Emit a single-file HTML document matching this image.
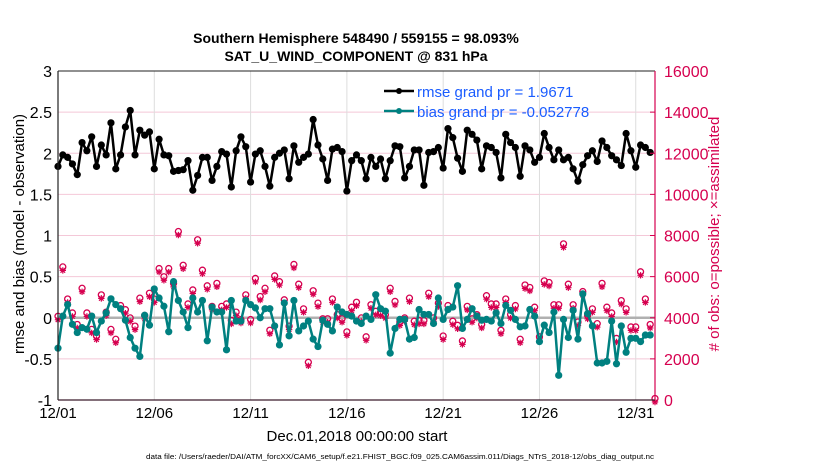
<!DOCTYPE html>
<html><head><meta charset="utf-8"><style>
body{margin:0;background:#fff;}
svg{display:block;font-family:"Liberation Sans",Arial,sans-serif;}
</style></head><body>
<svg id="chart" width="830" height="470" xmlns="http://www.w3.org/2000/svg">
<rect width="830" height="470" fill="#fff"/>
<text x="356" y="43" text-anchor="middle" font-size="14" font-weight="bold">Southern Hemisphere 548490 / 559155 = 98.093%</text>
<text x="356" y="61" text-anchor="middle" font-size="14" font-weight="bold">SAT_U_WIND_COMPONENT @ 831 hPa</text>
<g id="grid"></g>
<g id="marks"></g>
<g id="axes"></g>
<text transform="translate(24,234) rotate(-90)" text-anchor="middle" font-size="15">rmse and bias (model - observation)</text>
<text transform="translate(719,234) rotate(-90)" text-anchor="middle" font-size="15" fill="#d6004f">#  of obs: o=possible; ×=assimilated</text>
<text x="357" y="441" text-anchor="middle" font-size="15">Dec.01,2018 00:00:00 start</text>
<text x="400" y="459" text-anchor="middle" font-size="7.6" textLength="508" lengthAdjust="spacingAndGlyphs">data file: /Users/raeder/DAI/ATM_forcXX/CAM6_setup/f.e21.FHIST_BGC.f09_025.CAM6assim.011/Diags_NTrS_2018-12/obs_diag_output.nc</text>
<g>
<line x1="384" y1="91" x2="414" y2="91" stroke="#000" stroke-width="2.5"/><circle cx="399" cy="91" r="3" fill="#000"/>
<text x="417" y="97" font-size="15" fill="#1a5cff">rmse grand pr = 1.9671</text>
<line x1="384" y1="111" x2="414" y2="111" stroke="#008080" stroke-width="2.5"/><circle cx="399" cy="111" r="3" fill="#008080"/>
<text x="417" y="117" font-size="15" fill="#1a5cff">bias grand pr = -0.052778</text>
</g>
</svg>
<script>
const rmse=[1.84,1.98,1.95,1.87,1.74,2.13,2.03,2.2,1.84,2.1,1.98,2.37,1.81,1.98,2.32,2.52,1.98,2.28,2.22,2.26,1.81,2.17,1.98,1.97,1.78,1.79,1.8,1.91,1.55,1.73,1.95,1.95,1.67,1.84,2.02,1.99,1.59,2.03,2.2,2.08,1.65,1.99,2.03,1.84,1.6,1.95,2.0,2.04,1.69,2.09,1.89,1.95,1.99,2.41,2.1,1.93,1.67,2.05,2.07,2.02,1.54,1.91,1.98,
1.91,1.69,1.95,1.84,1.93,1.69,1.91,2.09,2.08,1.7,1.84,2.04,2.04,1.61,2.01,2.02,2.07,1.82,2.3,2.19,1.94,1.78,2.28,2.23,2.16,1.81,2.09,2.07,2.01,1.7,2.23,2.13,2.07,1.72,2.09,2.04,1.89,1.95,2.24,2.07,1.92,2.04,1.92,1.95,1.81,1.66,1.86,1.97,2.03,1.9,2.15,2.07,1.97,1.92,1.85,2.24,2.03,1.83,2.1,2.07,2.01];
const bias=[-0.37,0.02,0.16,-0.08,-0.18,-0.12,-0.14,0.02,-0.18,-0.04,0.06,0.23,0.16,0.11,-0.03,-0.24,-0.37,-0.47,0.03,-0.09,0.35,0.24,0.14,-0.17,0.44,0.21,0.07,-0.12,0.24,0.07,0.21,-0.28,0.13,0.07,0.07,-0.39,0.21,-0.04,-0.04,0.21,0.16,0.12,0,0.11,0.11,-0.1,-0.33,0.18,-0.22,0.21,-0.16,-0.1,-0.04,-0.26,-0.35,-0.03,-0.08,-0.16,0.13,0.07,0.04,0.02,-0.04,
-0.07,0.02,-0.02,0.28,0.11,0.08,-0.43,-0.13,-0.02,-0.02,-0.26,-0.24,0.1,0.04,0.04,-0.07,0.24,-0.02,0.1,0.13,0.39,-0.13,-0.02,0.11,0.02,-0.03,-0.02,-0.04,0.06,-0.07,0.15,0.09,-0.02,-0.11,-0.1,0.1,0.02,-0.29,-0.09,-0.18,0.07,-0.7,-0.02,-0.24,0.09,-0.26,0.29,0.05,-0.1,-0.55,-0.55,-0.53,-0.04,-0.56,-0.1,-0.42,-0.25,-0.25,-0.29,-0.21,-0.21];
const obsCount=[4000,6400,4840,4160,3600,5360,4160,3360,3040,5040,4200,3360,2880,4520,4320,3920,3520,4880,4040,5120,4840,6320,5920,6320,5600,8120,6480,4600,5280,7720,6240,5480,4480,5600,4480,4600,3800,4200,3840,5040,3840,5840,4960,5360,3320,5960,5680,4800,3520,6520,5560,4360,1760,5240,4640,3880,3880,4840,4080,3880,3240,4440,4680,
3920,3000,4560,4240,4200,4080,5360,4720,3720,3920,4880,3760,3800,3800,5120,3920,4640,3040,4520,3760,3560,2800,4480,3880,4080,3600,5000,4600,4600,3320,4840,4080,4520,2880,5520,5400,4440,3000,5720,5640,4560,4560,7520,5560,4560,3720,5200,4040,4360,3640,5600,4440,4160,2920,4760,4360,3480,3480,6160,4840,3600,0];
const xTickDays=[0,5,10,15,20,25,30];
const xTickLabels=["12/01","12/06","12/11","12/16","12/21","12/26","12/31"];
const yTicks=[-1,-0.5,0,0.5,1,1.5,2,2.5,3];
const yTickLabels=["-1","-0.5","0","0.5","1","1.5","2","2.5","3"];
const y2Ticks=[0,2000,4000,6000,8000,10000,12000,14000,16000];

const L=58,R=655,T=71,B=400,NS="http://www.w3.org/2000/svg";
const xs=d=>L+(R-L)*d/31;
const ys=v=>B-(B-T)*(v+1)/4;
const y2s=n=>B-(B-T)*n/16000;
function mk(tag,attrs,parent){const e=document.createElementNS(NS,tag);for(const k in attrs)e.setAttribute(k,attrs[k]);parent.appendChild(e);return e;}
const grid=document.getElementById('grid'),marks=document.getElementById('marks'),axes=document.getElementById('axes');
yTicks.forEach((v,i)=>{
  const g=mk('line',{x1:L,x2:R,y1:ys(v),y2:ys(v),stroke:'#f4c8d8','stroke-width':1},grid);
  
  
  const t=mk('text',{x:L-6,y:ys(v)+6,'text-anchor':'end','font-size':16},axes);t.textContent=yTickLabels[i];
  
  
});
xTickDays.forEach((d,i)=>{
  const g=mk('line',{x1:xs(d),x2:xs(d),y1:T,y2:B,stroke:'#dddddd','stroke-width':1},grid);
  
  
  const t=mk('text',{x:xs(d),y:B+18,'text-anchor':'middle','font-size':15},axes);t.textContent=xTickLabels[i];
  
  
});
y2Ticks.forEach(n=>{
  const t=mk('text',{x:R+9,y:y2s(n)+6,'font-size':16,fill:'#d6004f'},axes);t.textContent=String(n);
  
  
  mk('line',{x1:R-5,x2:R,y1:y2s(n),y2:y2s(n),stroke:'#d6004f'},axes);
});
const zl=mk('line',{x1:L,x2:R,y1:ys(0),y2:ys(0),stroke:'#b0b0b0','stroke-width':2.5},marks);


// obs markers
obsCount.forEach((n,i)=>{
  const x=xs(i/4),y=y2s(n);
  const o=mk('circle',{cx:x,cy:y-1.5,r:3,fill:'none',stroke:'#d6004f','stroke-width':1.3},marks);
  
  
  const a=mk('path',{d:`M${x-3.2} ${y+2}h6.4M${x} ${y-1.2}v6.4M${x-2.3} ${y-0.3}l4.6 4.6M${x+2.3} ${y-0.3}l-4.6 4.6`,stroke:'#d6004f','stroke-width':1.2,fill:'none'},marks);
  
  
});
function series(data,color,name){
  const pts=data.map((v,i)=>xs(i/4)+','+ys(v)).join(' ');
  const p=mk('polyline',{points:pts,fill:'none',stroke:color,'stroke-width':2.5,'stroke-linejoin':'round'},marks);
  
  
  data.forEach((v,i)=>{
    const c=mk('circle',{cx:xs(i/4),cy:ys(v),r:3.6,fill:color},marks);
    
    
  });
}
series(bias,'#008080','bias');
series(rmse,'#000000','rmse');
mk('line',{x1:L,x2:L,y1:T,y2:B,stroke:'#222','stroke-width':1.2},axes);
mk('line',{x1:L,x2:R,y1:B,y2:B,stroke:'#3a1a2a','stroke-width':1.2},axes);
mk('line',{x1:L,x2:R,y1:T,y2:T,stroke:'#222','stroke-width':1},axes);
mk('line',{x1:R,x2:R,y1:T,y2:B,stroke:'#d6004f','stroke-width':1.2},axes);
</script>
</body></html>
